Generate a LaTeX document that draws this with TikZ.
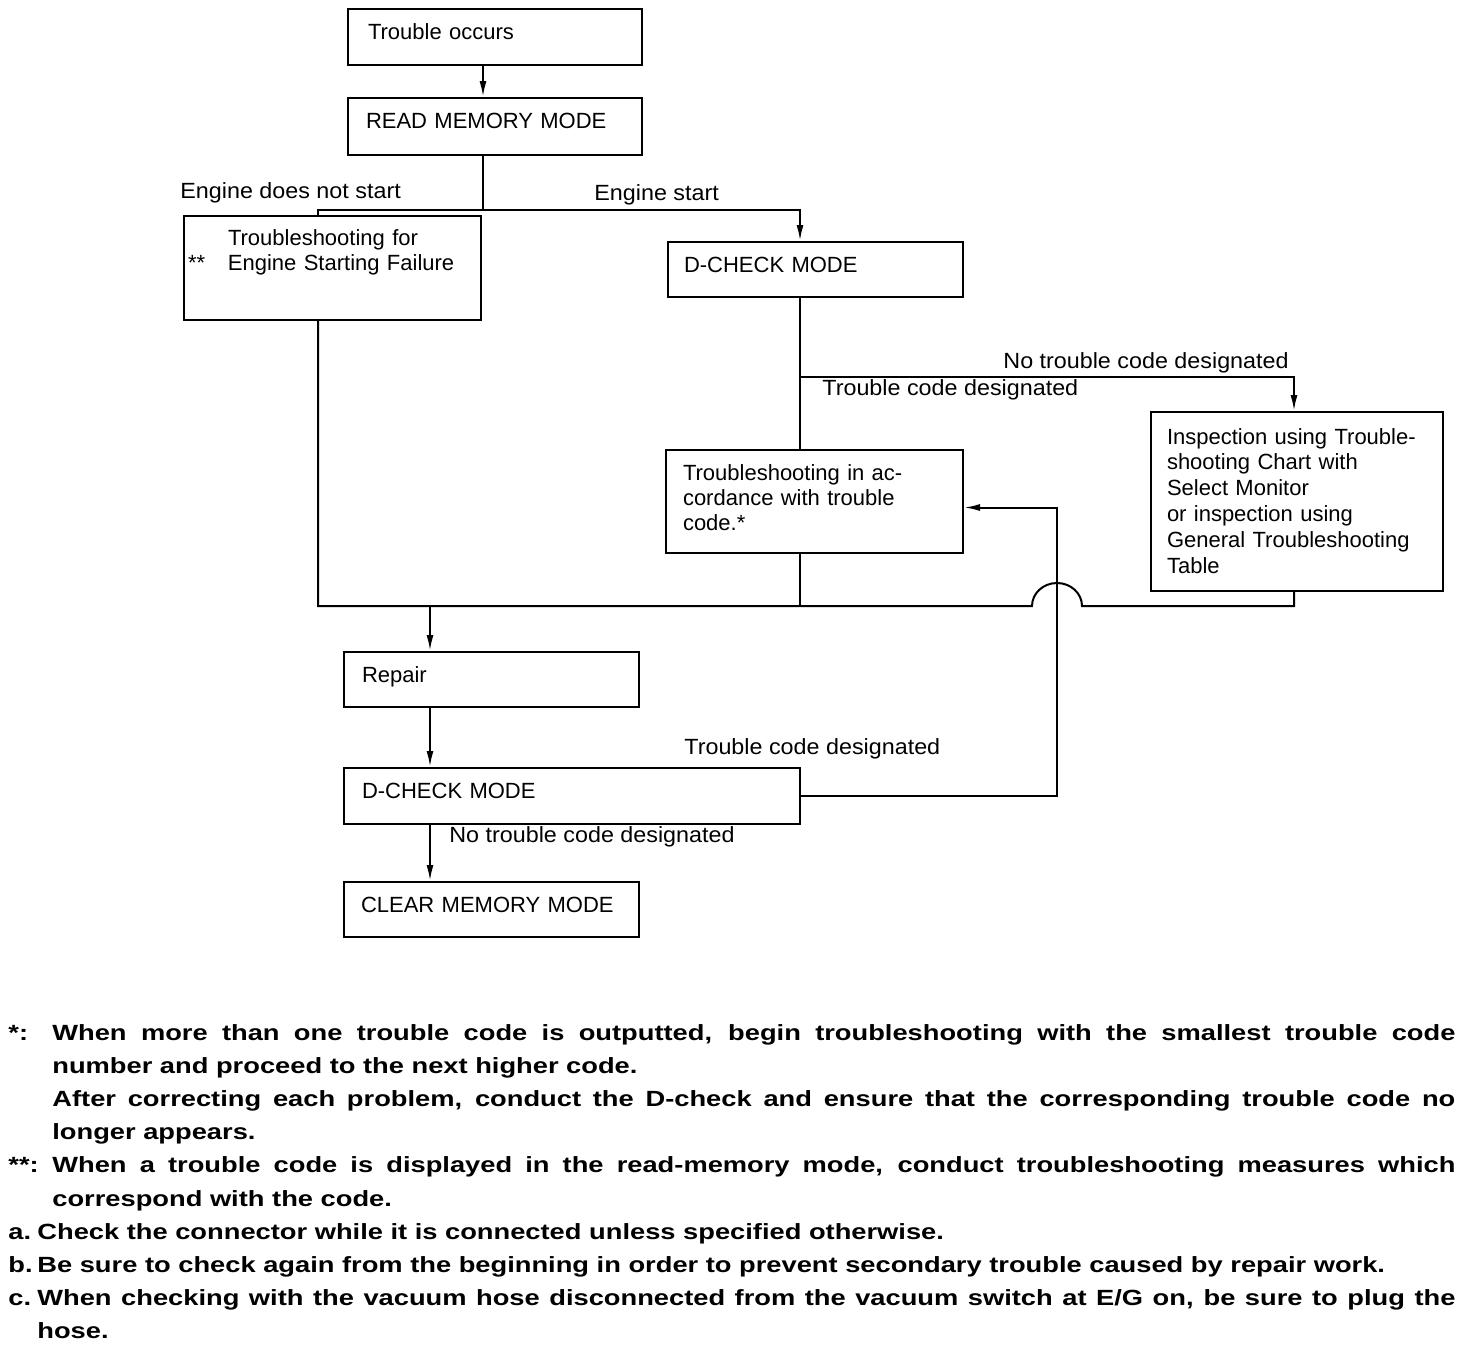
\documentclass[tikz,border=0pt]{standalone}
\usepackage{fontspec}
\setmainfont{Liberation Sans}
\newfontfamily\lblfont[FakeStretch=1.06]{Liberation Sans}
\newfontfamily\notefont[FakeStretch=1.24]{Liberation Sans Bold}
\usetikzlibrary{arrows.meta}
\newcommand\notesetup{\notefont\fontsize{11}{16.6}\selectfont
  \tolerance=10000\relax \hbadness=10000\relax \hyphenpenalty=10000\relax}

\tikzset{
  box/.style={draw, line width=1pt, anchor=north west, inner ysep=0pt,
    align=left, text height=15pt, font=\fontsize{11}{12.5}\selectfont},
  flow/.style={line width=1pt},
  arrow/.style={flow, -{Latex[length=8pt,width=3.5pt]}},
  lbl/.style={anchor=base west, inner sep=0pt, font=\lblfont\fontsize{11}{12.5}\selectfont},
  note/.style={anchor=base west, inner sep=0pt, font=\notesetup},
}

\begin{document}
\begin{tikzpicture}[x=0.5pt,y=-0.5pt]
  \useasboundingbox (0,0) rectangle (1472,1346);
  % columns for the connectors
  \coordinate (spine) at (483,0);
  \coordinate (lcol) at (318,0);
  \coordinate (rcol) at (800,0);
  \coordinate (icol) at (1294,0);
  \coordinate (mcol) at (430,0);
  \coordinate (fcol) at (1057,0);
  \coordinate (split) at (483,210);
  \coordinate (branch) at (800,377);
  \coordinate (hopL) at (1032,606);
  \coordinate (join) at (430,606);

  % boxes
  \node[box, inner xsep=10pt, text width=127pt, text depth=13pt] (occur) at (347,8) {Trouble occurs};
  \node[box, inner xsep=9pt, text width=129pt, text depth=13.5pt] (readmem) at (347,97) {READ MEMORY MODE};
  \node[box, inner xsep=2pt, text width=144.5pt, text height=14.5pt, text depth=37.5pt] (startfail) at (183,215)
    {\hspace*{20pt}Troubleshooting for\\ \makebox[20pt][l]{**}Engine Starting Failure};
  \node[box, inner xsep=8pt, text width=131.5pt, text depth=12.5pt] (dcheckA) at (667,241) {D-CHECK MODE};
  \node[box, inner xsep=8.5pt, text width=131.5pt, text depth=36.5pt] (tscode) at (665,449)
    {Troubleshooting in ac-\\ cordance with trouble\\ code.*};
  \node[box, inner xsep=8pt, text width=130pt, text height=16pt, text depth=73.5pt,
    font=\fontsize{11}{12.9}\selectfont] (inspect) at (1150,411)
    {Inspection using Trouble-\\ shooting Chart with\\ Select Monitor\\ or inspection using\\ General Troubleshooting\\ Table};
  \node[box, inner xsep=9pt, text width=129.5pt, text depth=12.5pt] (repair) at (343,651) {Repair};
  \node[box, inner xsep=9pt, text width=210pt, text depth=13pt] (dcheckB) at (343,767) {D-CHECK MODE};
  \node[box, inner xsep=8.5pt, text width=130.5pt, text depth=12.5pt] (clear) at (343,881) {CLEAR MEMORY MODE};

  % connectors
  \draw[arrow] (occur.south -| spine) -- (readmem.north -| spine);
  \draw[flow] (readmem.south -| spine) -- (split);
  \draw[flow] (split) -| (startfail.north -| lcol);
  \draw[arrow] (split) -| (dcheckA.north -| rcol);
  \draw[flow] (dcheckA.south -| rcol) -- (tscode.north -| rcol);
  \draw[arrow] (branch) -| (inspect.north -| icol);
  \draw[flow] (startfail.south -| lcol) |- (hopL)
    arc[start angle=180, end angle=0, x radius=12.5pt, y radius=11.5pt] -| (inspect.south -| icol);
  \draw[flow] (tscode.south -| rcol) -- (rcol |- hopL);
  \draw[arrow] (join) -- (repair.north -| join);
  \draw[arrow] (repair.south -| mcol) -- (dcheckB.north -| mcol);
  \draw[arrow] (dcheckB.south -| mcol) -- (clear.north -| mcol);
  \draw[arrow] (dcheckB.east) -| (fcol |- hopL) |- ([yshift=-3pt]tscode.east);

  % labels
  \node[lbl] (nostart) at (180,198) {Engine does not start};
  \node[lbl] (start) at (594,200) {Engine start};
  \node[lbl] (nocodeA) at (1003,368) {No trouble code designated};
  \node[lbl] (codeA) at (822,395) {Trouble code designated};
  \node[lbl] (codeB) at (684,754) {Trouble code designated};
  \node[lbl] (nocodeB) at (449,842) {No trouble code designated};

  % notes
  \node[note] (mark1) at (8,1040) {*:};
  \node[note, text width=701.5pt, align=justify] (note1) at (52,1040)
    {When more than one trouble code is outputted, begin troubleshooting with the smallest trouble code\linebreak
     number and proceed to the next higher code.\par
     After correcting each problem, conduct the D-check and ensure that the corresponding trouble code no\linebreak
     longer appears.};
  \node[note] (mark2) at (8,1172.8) {**:};
  \node[note, text width=701.5pt, align=justify] (note2) at (52,1172.8)
    {When a trouble code is displayed in the read-memory mode, conduct troubleshooting measures which\linebreak
     correspond with the code.};
  \node[note] (marka) at (8,1239.2) {a.};
  \node[note] (notea) at (37,1239.2) {Check the connector while it is connected unless specified otherwise.};
  \node[note] (markb) at (8,1272.4) {b.};
  \node[note] (noteb) at (37,1272.4) {Be sure to check again from the beginning in order to prevent secondary trouble caused by repair work.};
  \node[note] (markc) at (8,1305.6) {c.};
  \node[note, text width=709pt, align=justify] (notec) at (37,1305.6)
    {When checking with the vacuum hose disconnected from the vacuum switch at E/G on, be sure to plug the\linebreak
     hose.};
\end{tikzpicture}
\end{document}
